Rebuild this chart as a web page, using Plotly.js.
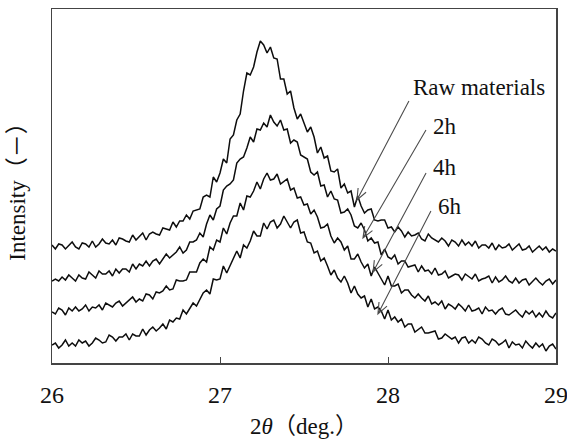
<!DOCTYPE html>
<html>
<head>
<meta charset="utf-8">
<script src="https://cdn.plot.ly/plotly-3.0.1.min.js"></script>
<style>html,body{margin:0;padding:0;background:#fff;}#chart{width:567px;height:443px;}</style>
</head>
<body>
<div id="chart"></div>
<script>
// 2θ sampling grid: 26.00 to 29.00 deg, step 0.02 deg (151 points)
const thetaStart = 26.0;
const thetaStep = 0.02;

const seriesNames = ["Raw materials", "2h", "4h", "6h"];

const rawMaterials = [
118,114,119,118,114,117,121,116,114,120,119,116,122,116,119,124,120,119,123,118,
125,124,122,121,128,123,126,130,123,129,131,129,128,135,134,133,141,136,142,142,
148,144,152,153,154,166,168,166,186,181,190,204,200,224,228,243,249,272,290,288,
296,311,322,318,310,316,305,304,284,284,269,272,255,244,249,240,231,236,226,210,
216,205,207,192,191,194,175,179,170,172,156,167,157,150,153,154,143,142,143,143,
135,136,131,136,132,126,131,127,128,130,124,122,129,125,123,121,125,122,117,123,
121,117,123,118,121,117,122,115,118,118,115,120,113,118,115,116,119,113,116,119,
113,114,117,111,114,117,113,116,111,114,112];

const milled2h = [
82,84,82,86,83,88,85,82,88,85,84,91,88,85,92,89,89,92,87,94,
90,94,94,91,99,94,99,97,102,97,102,104,99,104,109,105,108,111,116,110,
113,121,121,123,130,126,139,148,143,154,157,173,177,179,183,200,204,206,215,226,
221,234,233,240,236,248,241,237,243,233,234,220,223,221,208,206,204,191,188,191,
177,178,166,172,164,163,150,151,154,148,137,135,140,133,122,125,120,121,108,114,
106,104,108,99,102,102,96,97,98,91,97,92,93,89,95,88,89,92,85,87,
89,88,83,89,86,84,89,82,84,85,87,80,86,81,83,87,82,80,85,80,
83,84,78,81,85,81,78,82,84,79,83];

const milled4h = [
51,49,55,53,48,55,52,56,52,54,58,52,56,55,58,53,60,58,56,60,
62,57,60,64,66,61,64,62,69,68,64,71,70,72,77,73,74,83,82,82,
83,91,91,91,100,104,101,116,113,123,121,135,129,140,147,147,160,153,167,166,
172,181,174,184,190,183,184,189,179,182,184,173,175,165,166,158,159,149,153,146,
135,136,139,127,120,125,121,113,117,104,104,109,101,95,99,87,96,90,84,78,
87,77,77,79,70,73,73,68,65,69,65,62,67,59,61,58,62,54,59,57,
54,59,56,52,58,52,53,55,49,56,52,53,49,53,55,49,48,51,53,49,
46,52,49,52,46,50,46,52,47,45,50];

const milled6h = [
18,20,15,18,23,17,20,17,23,20,22,17,20,25,23,20,21,28,26,22,
26,26,29,23,29,27,27,34,28,33,36,32,35,39,34,43,41,45,44,53,
49,54,60,57,63,70,73,69,84,83,84,97,90,97,105,112,105,118,115,122,
132,127,127,140,134,141,143,135,139,147,141,135,141,143,130,131,121,120,110,112,
102,105,97,88,93,85,81,87,80,70,77,69,65,67,56,64,54,56,52,44,
53,43,46,41,44,36,39,39,31,34,36,30,30,31,32,24,25,29,26,24,
26,20,25,26,20,23,20,26,24,20,18,24,22,18,20,23,15,21,18,19,
15,22,18,15,20,16,19,12,17,19,14];

const xTickVals = [26, 27, 28, 29];
const xTickText = ["26", "27", "28", "29"];

// arrow heads (data coords) for each label, and tail offsets in pixels
const arrowHeadX = [27.815, 27.851, 27.911, 27.940];
const arrowHeadY = [163, 125, 91, 49];
const arrowTailDx = [52, 63, 53, 53];
const arrowTailDy = [-99, -108, -99, -103];

const allSeries = [rawMaterials, milled2h, milled4h, milled6h];
const theta = rawMaterials.map((_, i) => +(thetaStart + thetaStep * i).toFixed(2));

const traces = allSeries.map((ys, k) => ({
  x: theta,
  y: ys,
  name: seriesNames[k],
  type: "scatter",
  mode: "lines",
  line: {color: "#0d0d0d", width: 1.5},
  hoverinfo: "skip"
}));

const FONT = "'Liberation Serif', 'Times New Roman', 'Noto Sans CJK JP', serif";

const margin = {l: 52, r: 11, t: 9, b: 80};
const plotW = 567 - margin.l - margin.r;
const plotH = 443 - margin.t - margin.b;
const xRange = [26, 29];
const yRange = [0, 354];
const pxX = (xRange[1] - xRange[0]) / plotW;
const pxY = (yRange[1] - yRange[0]) / plotH;

function arrowShape(k) {
  const hx = arrowHeadX[k], hy = arrowHeadY[k];
  const dx = arrowTailDx[k], dy = arrowTailDy[k];
  const len = Math.hypot(dx, dy);
  const ux = dx / len, uy = dy / len;
  const headLen = 12, ang = 22 * Math.PI / 180;
  const wing = (s) => {
    const c = Math.cos(s * ang), sn = Math.sin(s * ang);
    const wx = (ux * c - uy * sn) * headLen, wy = (ux * sn + uy * c) * headLen;
    return [hx + wx * pxX, hy - wy * pxY];
  };
  const t = [hx + dx * pxX, hy - dy * pxY];
  const w1 = wing(1), w2 = wing(-1);
  return {
    type: "path", xref: "x", yref: "y",
    path: `M${t[0]},${t[1]} L${hx},${hy} M${w1[0]},${w1[1]} L${hx},${hy} L${w2[0]},${w2[1]}`,
    line: {color: "#4d4d4d", width: 1.1}
  };
}

function label(t, x, y) {
  return {text: t, x: x, y: y, xref: "paper", yref: "paper", showarrow: false,
    xanchor: "center", yanchor: "middle", font: {family: FONT, size: 23, color: "#111111"}};
}

const layout = {
  width: 567, height: 443,
  margin: margin,
  paper_bgcolor: "#ffffff", plot_bgcolor: "#ffffff",
  showlegend: false,
  font: {family: FONT, size: 23, color: "#111111"},
  xaxis: {
    range: xRange, tickvals: xTickVals, ticktext: xTickText,
    ticks: "inside", ticklen: 6, tickwidth: 1, tickcolor: "#444444",
    showline: true, linecolor: "#444444", linewidth: 1.5, mirror: true,
    showgrid: false, zeroline: false,
    tickfont: {family: FONT, size: 24, color: "#111111"},
    ticklabelstandoff: 10, ticklabeloverflow: "allow",
    title: {text: "2<i>θ</i>（deg.）", font: {family: FONT, size: 23, color: "#111111"}, standoff: 10}
  },
  yaxis: {
    range: yRange, showticklabels: false, ticks: "",
    showline: true, linecolor: "#444444", linewidth: 1.5, mirror: true,
    showgrid: false, zeroline: false,
    title: {text: "Intensity（－）", font: {family: FONT, size: 23, color: "#111111"}, standoff: 18}
  },
  shapes: [0, 1, 2, 3].map(arrowShape),
  annotations: [
    label("Raw materials", 0.847, 0.777),
    label("2h", 0.780, 0.667),
    label("4h", 0.780, 0.551),
    label("6h", 0.790, 0.4435)
  ]
};

Plotly.newPlot("chart", traces, layout, {displayModeBar: false, staticPlot: true});
</script>
</body>
</html>
